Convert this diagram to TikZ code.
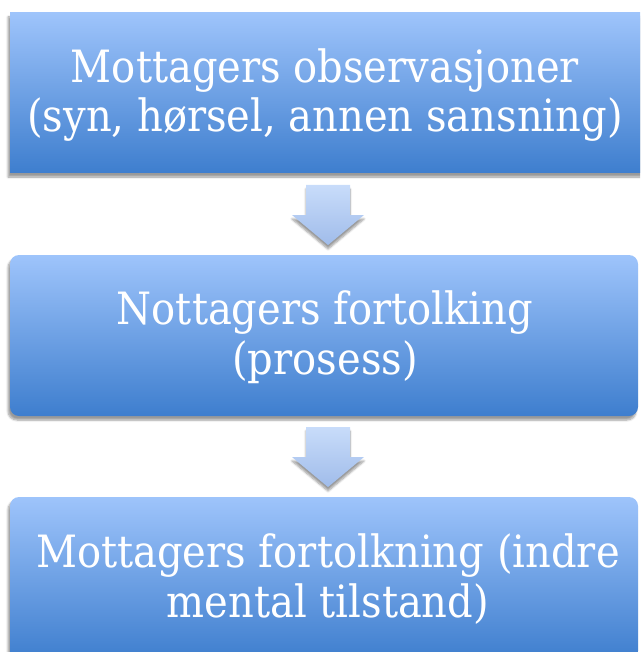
\documentclass[tikz,border=0pt]{standalone}
\usepackage{fontspec}
\setmainfont{DejaVu Serif Condensed}
\usetikzlibrary{shadows.blur}
\definecolor{boxtop}{RGB}{158,196,251}
\definecolor{boxbot}{RGB}{62,126,206}
\definecolor{arrtop}{RGB}{200,220,250}
\definecolor{arrbot}{RGB}{160,188,234}
\tikzset{
  px/.style={x=1pt,y=-1pt},
  stagebox/.style={top color=boxtop,bottom color=boxbot,draw=none,
    blur shadow={shadow xshift=-2pt,shadow yshift=-4pt,shadow blur steps=6,shadow opacity=40}},
  stagetext/.style={text=white,align=center,font=\fontsize{44.5}{49.5}\selectfont,inner sep=0pt},
  downarrow/.style={top color=arrtop,bottom color=arrbot,draw=none,
    blur shadow={shadow xshift=0pt,shadow yshift=-4pt,shadow blur steps=6,shadow opacity=40}}
}
\begin{document}
\begin{tikzpicture}[px]
\useasboundingbox (0,0) rectangle (640,652);
\clip (0,0) rectangle (640,652);
% boxes
\path[stagebox] (10,13) rectangle (660,173);
\path[stagebox,rounded corners=9pt] (10,255) rectangle (638,416);
\path[stagebox,rounded corners=9pt] (10,497) rectangle (638,660);
% arrows
\path[downarrow] (306,185) -- (350,185) -- (350,215) -- (364,215) -- (328,245) -- (292,215) -- (306,215) -- cycle;
\path[downarrow] (306,427) -- (350,427) -- (350,457) -- (364,457) -- (328,487) -- (292,457) -- (306,457) -- cycle;
% texts
\coordinate (c1) at (325,95);
\coordinate (c2) at (325,337);
\coordinate (c3) at (328,579);
\node[stagetext] (t1) at (c1) {Mottagers observasjoner\\(syn, hørsel, annen sansning)};
\node[stagetext] (t2) at (c2) {Nottagers fortolking\\(prosess)};
\node[stagetext] (t3) at (c3) {Mottagers fortolkning (indre\\mental tilstand)};
\end{tikzpicture}
\end{document}
